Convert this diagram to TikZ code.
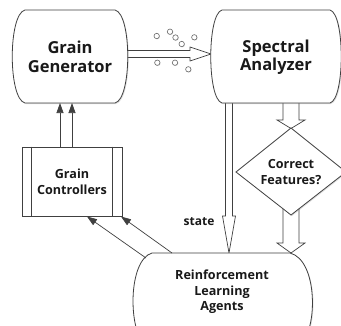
\documentclass[tikz,border=0pt]{standalone}
\usepackage{fontspec}
\setmainfont{Open Sans}
\usetikzlibrary{shadows,arrows.meta}
\tikzset{
  blob/.style={draw=black!75, fill=white, line width=0.8pt,
    drop shadow={shadow xshift=1pt, shadow yshift=-1pt, opacity=0.25}},
  fat/.style={draw=black!75, fill=white, line width=0.7pt, line join=miter},
  bigtxt/.style={font=\fontsize{16.5}{18.5}\selectfont\bfseries, align=center, text=black!90},
  midtxt/.style={font=\fontsize{12.6}{15.5}\selectfont\bfseries, align=center, text=black!90},
  thin/.style={draw=black!75, line width=0.7pt, -{Triangle[length=10pt,width=7pt]}},
  grain/.style={circle, draw=black!60, fill=white, line width=0.6pt, inner sep=0pt, minimum size=5.4pt,
    drop shadow={shadow xshift=0.6pt, shadow yshift=-0.6pt, opacity=0.25}},
}
\begin{document}
\begin{tikzpicture}[x=1pt,y=-1pt]
\useasboundingbox (0,0) rectangle (341,325);
\clip (0,0) rectangle (341,325);
\fill[white] (0,0) rectangle (341,325);

% fat arrows (drawn first so shapes cover their tails)
\path[fat] (120,50.5) -- (190,50.5) -- (190,47) -- (211,54) -- (190,61) -- (190,57.5) -- (120,57.5) -- cycle;
\path[fat] (225.5,95) -- (225.5,216) -- (222.5,216) -- (229,253) -- (235.5,216) -- (232.5,216) -- (232.5,95) -- cycle;
\path[fat] (283,95) -- (283,120) -- (277,120) -- (291,128.5) -- (305,120) -- (299,120) -- (299,95) -- cycle;
\path[fat] (283,205) -- (283,243) -- (277,243) -- (291,253) -- (305,243) -- (299,243) -- (299,205) -- cycle;

% Grain Generator
\path[blob] (25,10) -- (115,10) .. controls (132,14) and (132,99) .. (115,103)
  -- (25,103) .. controls (8,99) and (8,14) .. (25,10) -- cycle;
\node[bigtxt] (gg) at (70,57) {Grain\\Generator};
\coordinate (ggb1) at (60,103);
\coordinate (ggb2) at (72,103);

% Spectral Analyzer
\path[blob] (222,10) -- (330,10) .. controls (345,14) and (345,99) .. (330,103)
  -- (222,103) .. controls (207,99) and (207,14) .. (222,10) -- cycle;
\node[bigtxt] (sa) at (276,57) {Spectral\\Analyzer};

% Correct Features diamond
\path[blob] (291,128) -- (346,172) -- (291,215) -- (236,172) -- cycle;
\node[midtxt] (cf) at (291,172) {Correct\\Features?};

% Reinforcement Learning Agents
\path[blob] (152,253) -- (290,253) .. controls (318,260) and (318,330) .. (300,345)
  -- (145,345) .. controls (128,330) and (128,260) .. (152,253) -- cycle;
\node[midtxt] (rl) at (222,292) {Reinforcement\\Learning\\Agents};
\coordinate (rl1) at (146,258);
\coordinate (rl2) at (172,253);

% Grain Controllers
\node[draw=black!75, fill=white, line width=0.8pt, minimum width=100pt, minimum height=69pt,
  inner sep=0pt, drop shadow={shadow xshift=1pt, shadow yshift=-1pt, opacity=0.25}] (gcbox) at (72,181.5) {};
\draw[black!75, line width=0.7pt] ([xshift=10pt]gcbox.north west) -- ([xshift=10pt]gcbox.south west);
\draw[black!75, line width=0.7pt] ([xshift=-10pt]gcbox.north east) -- ([xshift=-10pt]gcbox.south east);
\node[midtxt] (gc) at (72,182) {Grain\\Controllers};
\coordinate (gct1) at (60,147);
\coordinate (gct2) at (72,147);
\coordinate (gcb1) at (87,216.5);
\coordinate (gcb2) at (121,216.5);

% thin arrows
\draw[thin] (gct1) -- (ggb1);
\draw[thin] (gct2) -- (ggb2);
\draw[thin] (rl1) -- (gcb1);
\draw[thin] (rl2) -- (gcb2);

% state label
\node[font=\fontsize{12}{14}\selectfont\bfseries, text=black!90, anchor=east] (st) at (218,222) {state};

% grains
\foreach \n/\p in {g1/{(156.7,36)}, g2/{(170,31.7)}, g3/{(175.5,37.5)}, g4/{(181.7,44)}, g5/{(194.3,37.3)},
  g6/{(157.3,62.7)}, g7/{(175,62.7)}, g8/{(188.3,69.3)}}
  \node[grain] (\n) at \p {};
\end{tikzpicture}
\end{document}
